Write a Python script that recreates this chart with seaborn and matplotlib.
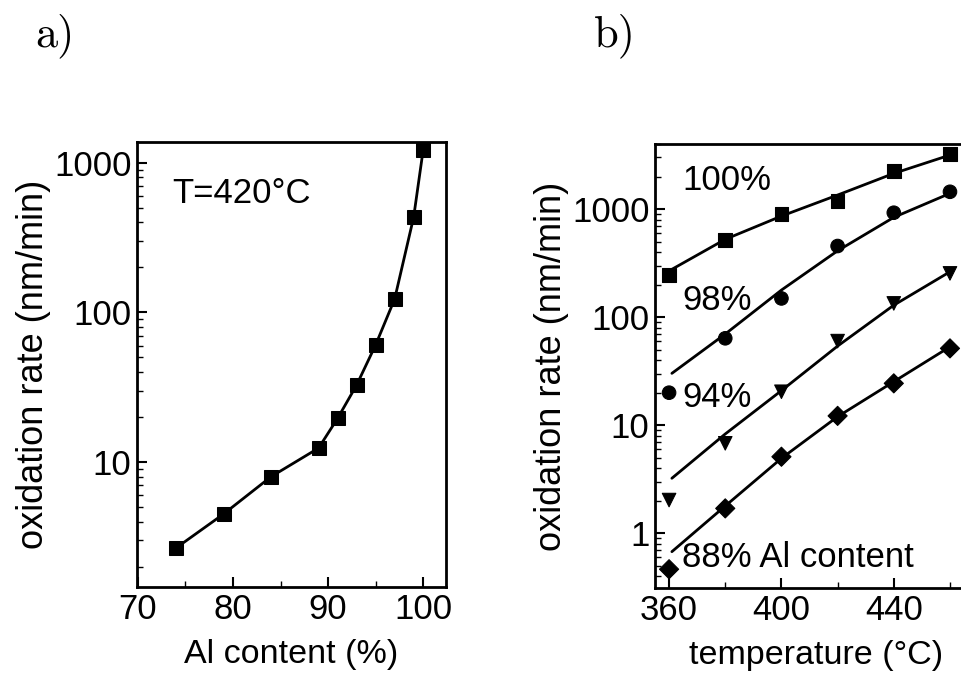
import matplotlib
matplotlib.use("Agg")
import matplotlib.pyplot as plt
import matplotlib.ticker as mticker
import seaborn as sns
import pandas as pd

# panel a: oxidation rate vs Al content at 420 C
al_content = [74, 79, 84, 89, 91, 93, 95, 97, 99, 100]
rate_a = [2.66, 4.49, 7.98, 12.4, 19.6, 32.7, 60.7, 123, 434, 1222]

# panel b: oxidation rate vs temperature, measured points
temps = [360, 380, 400, 420, 440, 460]
rate_100 = [245, 517, 899, 1194, 2248, 3228]
rate_98 = [20, 63.7, 149, 455, 925, 1445]
rate_94 = [2.03, 6.8, 20.4, 60, 134, 254]
rate_88 = [0.465, 1.70, 5.11, 12.2, 24.4, 51.4]

# fitted curves
fit_temps = [361, 380, 400, 420, 440, 460]
fit_100 = [277, 525, 861, 1348, 2138, 3160]
fit_98 = [30.2, 69.8, 178, 411, 838, 1397]
fit_94 = [3.23, 8.3, 20.9, 54, 129, 263]
fit_88 = [0.676, 1.79, 4.94, 12.0, 25.3, 53.2]

series_names = ["100%", "98%", "94%", "88%"]
series_labels = ["100%", "98%", "94%", "88% Al content"]
series_markers = {"100%": "s", "98%": "o", "94%": "v", "88%": "D"}

sns.set_style("ticks")
plt.rcParams["font.family"] = ["Liberation Sans", "DejaVu Sans"]
plt.rcParams["xtick.direction"] = "in"
plt.rcParams["ytick.direction"] = "in"
for key in ["text.color", "axes.labelcolor", "xtick.color", "ytick.color",
            "xtick.labelcolor", "ytick.labelcolor"]:
    plt.rcParams[key] = "black"

fig = plt.figure(figsize=(9.62, 6.86), dpi=100)
ax_a = fig.add_axes([0.1424, 0.1443, 0.3212, 0.6487])
ax_b = fig.add_axes([0.6809, 0.1429, 0.3358, 0.6472])

# ---- panel a
df_a = pd.DataFrame({"al": al_content, "rate": rate_a})
sns.lineplot(data=df_a, x="al", y="rate", ax=ax_a, color="black", lw=2.0,
             marker="s", markersize=9.5, markeredgecolor="black")
ax_a.set_yscale("log")
ax_a.set_xlim(69.9, 102.4)
ax_a.set_ylim(1.46, 1380)
ax_a.set_xticks([70, 80, 90, 100])
ax_a.xaxis.set_minor_locator(mticker.MultipleLocator(5))
ax_a.set_yticks([10, 100, 1000])
ax_a.yaxis.set_major_formatter(mticker.FuncFormatter(lambda v, p: f"{v:g}"))
ax_a.set_xlabel("Al content (%)", fontsize=24.5, labelpad=10)
ax_a.set_ylabel("oxidation rate (nm/min)", fontsize=26, labelpad=2)
ax_a.text(0.115, 0.885, "T=420°C", transform=ax_a.transAxes, fontsize=25,
          va="center", ha="left")

# ---- panel b
pts = pd.DataFrame({
    "temp": temps * 4,
    "rate": rate_100 + rate_98 + rate_94 + rate_88,
    "series": sum([[s] * len(temps) for s in series_names], []),
})
fits = pd.DataFrame({
    "temp": fit_temps * 4,
    "rate": fit_100 + fit_98 + fit_94 + fit_88,
    "series": sum([[s] * len(fit_temps) for s in series_names], []),
})
black = {s: "black" for s in series_names}
sns.lineplot(data=fits, x="temp", y="rate", hue="series", palette=black,
             ax=ax_b, lw=2.0, legend=False)
sns.scatterplot(data=pts, x="temp", y="rate", hue="series", style="series",
                palette=black, markers=series_markers, s=95, ax=ax_b,
                edgecolor="black", legend=False)
ax_b.set_yscale("log")
ax_b.set_xlim(355, 470)
ax_b.set_ylim(0.312, 4000)
ax_b.set_xticks([360, 400, 440])
ax_b.xaxis.set_minor_locator(mticker.MultipleLocator(20))
ax_b.set_yticks([1, 10, 100, 1000])
ax_b.yaxis.set_major_formatter(mticker.FuncFormatter(lambda v, p: f"{v:g}"))
ax_b.set_xlabel("temperature (°C)", fontsize=24.5, labelpad=10)
ax_b.set_ylabel("oxidation rate (nm/min)", fontsize=26, labelpad=2)

label_pos = [(0.085, 0.917), (0.085, 0.647), (0.085, 0.43), (0.085, 0.068)]
for lab, (lx, ly) in zip(series_labels, label_pos):
    ax_b.text(lx, ly, lab, transform=ax_b.transAxes, fontsize=25,
              va="center", ha="left")

for ax in (ax_a, ax_b):
    ax.tick_params(which="major", length=7, width=1.5, labelsize=25, pad=4)
    ax.tick_params(which="minor", length=4, width=1.0)
    for sp in ax.spines.values():
        sp.set_linewidth(2.0)
        sp.set_color("black")

fig.text(0.057, 0.948, "a)", fontsize=32, family="cmr10", ha="center", va="center")
fig.text(0.639, 0.948, "b)", fontsize=32, family="cmr10", ha="center", va="center")

fig.savefig("out.png", dpi=100)
